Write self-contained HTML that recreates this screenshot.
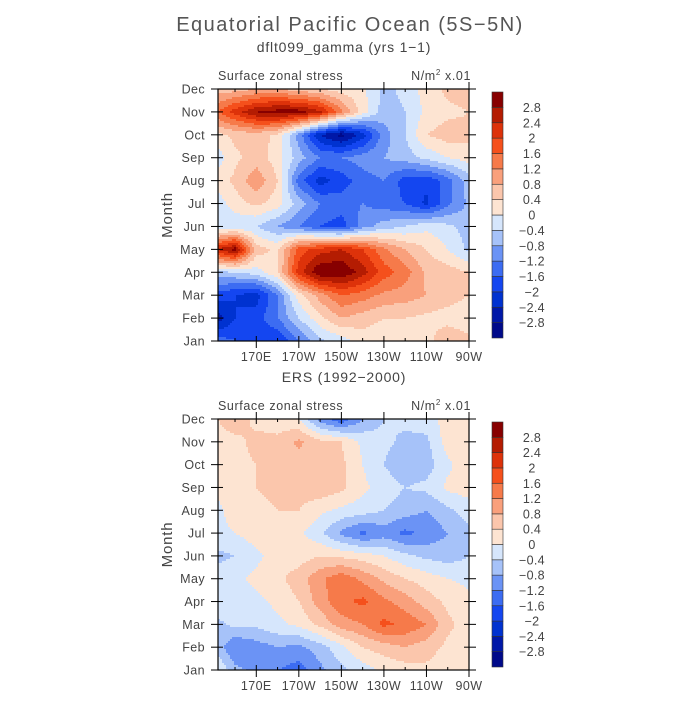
<!DOCTYPE html>
<html><head><meta charset="utf-8">
<style>
html,body{margin:0;padding:0;background:#fff;}
svg text{font-family:"Liberation Sans",sans-serif;fill:#444;}
</style></head>
<body>
<svg id="chart" width="700" height="700" viewBox="0 0 700 700" xmlns="http://www.w3.org/2000/svg">
<text x="350" y="31" text-anchor="middle" font-size="20" letter-spacing="1.5" style="fill:#555">Equatorial Pacific Ocean (5S−5N)</text>
<g id="panels"></g>
</svg>
<script>
const lons = [152,160,170,180,190,200,210,220,230,240,250,260,270];
const months = ['Jan','Feb','Mar','Apr','May','Jun','Jul','Aug','Sep','Oct','Nov','Dec'];
const levels = [-2.8,-2.4,-2,-1.6,-1.2,-0.8,-0.4,0,0.4,0.8,1.2,1.6,2,2.4,2.8];
const levelLabels = ['−2.8','−2.4','−2','−1.6','−1.2','−0.8','−0.4','0','0.4','0.8','1.2','1.6','2','2.4','2.8'];
const lonTickVals = [170,190,210,230,250,270];
const lonTickLabels = ['170E','170W','150W','130W','110W','90W'];
const palette = ['#000a8a','#0018a8','#0032d0','#1446f0','#3c6cf2','#6b93f5','#a6c2f9','#d6e6fc','#fde4d2','#fbc6ac','#f9a07c','#f67a4a','#f5501c','#dd320a','#b41c02','#870000'];
const modelData = [
[-1.4,-1.6,-1.8,-2.0,-1.2,-0.5,-0.2,0.2,0.1,0.0,0.2,0.8,0.5],
[-2.6,-2.0,-1.8,-1.2,-0.4,0.3,0.8,0.6,0.4,0.4,0.3,0.2,0.1],
[-1.8,-2.0,-2.2,-1.2,0.2,1.0,1.6,1.4,1.1,1.0,0.8,0.6,0.4],
[-0.5,-0.4,-0.2,0.4,2.2,3.2,3.2,2.6,1.8,1.4,0.7,0.6,0.4],
[2.4,3.0,0.6,0.3,1.8,2.2,2.4,2.0,1.3,0.8,0.4,0.0,-0.5],
[-0.4,-0.3,-0.4,-0.8,-1.2,-1.6,-1.8,-1.0,-0.6,-0.4,-0.1,-0.3,-0.6],
[-0.2,0.2,0.5,0.2,-0.6,-1.2,-1.4,-1.2,-1.4,-1.6,-2.1,-1.3,-0.7],
[0.2,0.5,1.1,0.4,-1.4,-2.2,-1.8,-1.4,-1.2,-1.8,-1.9,-1.4,-0.6],
[-0.2,0.3,0.6,0.2,-0.6,-1.2,-1.2,-1.0,-0.8,-0.6,-0.3,0.0,0.2],
[0.3,0.5,0.6,0.3,-1.0,-2.4,-3.0,-2.2,-1.0,-0.4,0.4,0.6,0.5],
[1.6,2.2,2.8,3.0,3.0,2.5,1.3,0.2,-0.6,-0.4,0.1,0.3,0.4],
[0.6,0.6,0.8,0.8,0.6,0.4,0.2,0.1,-0.5,-0.3,0.2,0.5,0.6]
];
const ersData = [
[0.0,-0.7,-0.9,-1.2,-1.4,-0.9,-0.5,-0.2,0.1,0.2,0.3,0.1,0.0],
[-0.6,-1.2,-1.0,-0.8,-0.9,-0.6,-0.1,0.4,0.6,0.8,0.6,0.3,0.2],
[-0.5,-0.3,-0.3,-0.1,0.1,0.5,1.0,1.2,1.7,1.5,1.2,0.5,0.2],
[-0.1,-0.2,-0.1,0.1,0.4,1.0,1.5,1.7,1.3,1.0,0.6,0.3,0.1],
[-0.2,-0.1,0.1,0.3,0.6,1.1,1.5,1.1,0.7,0.4,0.2,0.0,-0.1],
[-0.5,-0.4,-0.1,0.2,0.2,0.4,0.3,0.2,0.0,-0.3,-0.5,-0.6,-0.4],
[-0.1,0.0,0.2,0.4,0.1,-0.3,-0.9,-1.3,-1.0,-1.3,-1.1,-0.8,-0.5],
[-0.1,0.2,0.3,0.4,0.4,0.1,-0.1,-0.2,-0.4,-0.6,-0.8,-0.5,-0.2],
[0.1,0.3,0.4,0.5,0.6,0.7,0.5,0.1,-0.2,-0.4,-0.3,0.1,0.2],
[0.2,0.3,0.4,0.4,0.6,0.4,0.5,0.0,-0.4,-0.7,-0.6,-0.1,0.3],
[0.3,0.3,0.5,0.5,0.9,0.5,0.4,-0.1,-0.3,-0.5,-0.5,0.2,0.3],
[0.4,0.6,0.3,0.2,0.0,-1.0,-1.5,-0.8,-0.4,-0.3,-0.2,0.2,0.3]
];
const NS='http://www.w3.org/2000/svg';
function mk(tag,attrs,parent){const e=document.createElementNS(NS,tag);for(const k in attrs)e.setAttribute(k,attrs[k]);parent.appendChild(e);return e;}
function colorFor(v){let i=0;while(i<levels.length&&v>=levels[i])i++;return palette[i];}
function sample(data,lon,m){
  let i=0;while(i<lons.length-2&&lon>lons[i+1])i++;
  let tx=(lon-lons[i])/(lons[i+1]-lons[i]);tx=Math.max(0,Math.min(1,tx));
  let j=Math.floor(m);if(j<0)j=0;if(j>months.length-2)j=months.length-2;
  let ty=m-j;ty=Math.max(0,Math.min(1,ty));
  const a=data[j][i],b=data[j][i+1],c=data[j+1][i],d=data[j+1][i+1];
  return (a*(1-tx)+b*tx)*(1-ty)+(c*(1-tx)+d*tx)*ty;
}
function panel(g,data,top,bottom,subtitle,name){
  const L=218,R=469;
  const xS=lon=>L+(lon-lons[0])/(lons[lons.length-1]-lons[0])*(R-L);
  const yS=m=>bottom-m/(months.length-1)*(bottom-top);
  const pg=mk('g',{},g);
  
  
  const st=mk('text',{x:344,y:top-37,'text-anchor':'middle','font-size':14,'letter-spacing':'0.8'},pg);
  st.textContent=subtitle;
  
  
  const t1=mk('text',{x:L,y:top-9,'font-size':12.5,'letter-spacing':'0.6'},pg);t1.textContent='Surface zonal stress';
  
  
  const t2=mk('text',{x:R+2,y:top-9,'text-anchor':'end','font-size':12.5,'letter-spacing':'0.6'},pg);
  t2.innerHTML='N/m<tspan font-size="8" dy="-5">2</tspan><tspan dy="5"> x.01</tspan>';
  
  
  const fg=mk('g',{'shape-rendering':'crispEdges'},pg);
  
  
  const step=2;
  function flush(x0,x1,y,col){
    const r=mk('rect',{x:x0,y:y,width:x1-x0+0.5,height:Math.min(step,bottom-y)+0.5,fill:col},fg);
    
    
  }
  for(let y=top;y<bottom;y+=step){
    const m=(bottom-(y+step/2))/(bottom-top)*(months.length-1);
    let runStart=L,runCol=null;
    for(let x=L;x<R;x+=step){
      const lon=lons[0]+(Math.min(x+step/2,R)-L)/(R-L)*(lons[lons.length-1]-lons[0]);
      const col=colorFor(sample(data,lon,m));
      if(col!==runCol){
        if(runCol!==null)flush(runStart,x,y,runCol);
        runStart=x;runCol=col;
      }
    }
    if(runCol!==null)flush(runStart,R,y,runCol);
  }
  mk('rect',{x:L,y:top,width:R-L,height:bottom-top,fill:'none',stroke:'#000','stroke-width':1.2},pg);
  months.forEach((mn,k)=>{
    const y=yS(k);
    mk('line',{x1:L-7,y1:y,x2:L+5,y2:y,stroke:'#000','stroke-width':1},pg);
    mk('line',{x1:R-5,y1:y,x2:R+7,y2:y,stroke:'#000','stroke-width':1},pg);
    const t=mk('text',{x:L-13,y:y+4.5,'text-anchor':'end','font-size':12.5,'letter-spacing':'0.4'},pg);t.textContent=mn;
    
    
  });
  const yl=mk('text',{x:0,y:0,'text-anchor':'middle','font-size':15,transform:`translate(172,${(top+bottom)/2}) rotate(-90)`,'letter-spacing':'0.8'},pg);
  yl.textContent='Month';
  
  
  for(let lon=160;lon<=270;lon+=10){
    const x=xS(lon),major=lonTickVals.includes(lon);
    mk('line',{x1:x,y1:bottom-(major?5:3),x2:x,y2:bottom+(major?7:0),stroke:'#000','stroke-width':1},pg);
    mk('line',{x1:x,y1:top+(major?5:3),x2:x,y2:top-(major?7:0),stroke:'#000','stroke-width':1},pg);
  }
  lonTickVals.forEach((lon,k)=>{
    const t=mk('text',{x:xS(lon),y:bottom+20,'text-anchor':'middle','font-size':12.5,'letter-spacing':'0.4'},pg);t.textContent=lonTickLabels[k];
    
    
  });
  const cbTop=top+3,cbBot=bottom-3,cbX=492,cbW=11;
  const cg=mk('g',{},pg);
  
  
  const h=(cbBot-cbTop)/palette.length;
  palette.forEach((c,k)=>{
    const r=mk('rect',{x:cbX,y:cbBot-(k+1)*h,width:cbW,height:h,fill:c,stroke:'#333','stroke-width':0.6},cg);
    
    
  });
  levelLabels.forEach((lb,k)=>{
    const t=mk('text',{x:532,y:cbBot-(k+1)*h+4.5,'text-anchor':'middle','font-size':12.5,'letter-spacing':'0.3'},cg);t.textContent=lb;
    
    
  });
}
const g=document.getElementById('panels');
panel(g,modelData,89,341,'dflt099_gamma (yrs 1−1)','model-panel');
panel(g,ersData,419,670,'ERS (1992−2000)','ers-panel');
</script>
</body></html>
